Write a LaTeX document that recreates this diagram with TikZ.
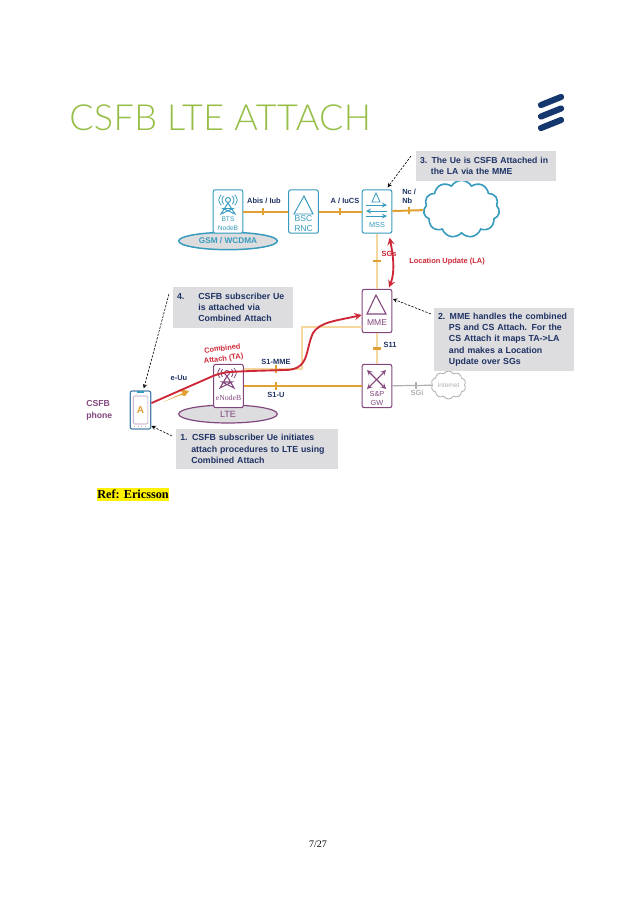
\documentclass[tikz,border=0pt]{standalone}
\usepackage{fontspec}
\setmainfont{Liberation Sans}
\newfontfamily\titlefont[LetterSpace=1]{Lato Light}
\newfontfamily\reffont{Liberation Serif}
\usetikzlibrary{shapes.geometric,shapes.symbols}
\definecolor{titlegreen}{RGB}{150,190,70}
\definecolor{logonavy}{RGB}{20,55,110}
\definecolor{textnavy}{RGB}{30,50,100}
\definecolor{netteal}{RGB}{55,155,190}
\definecolor{netpurple}{RGB}{130,70,125}
\definecolor{ifaceorange}{RGB}{225,160,50}
\definecolor{ifacelight}{RGB}{245,215,160}
\definecolor{attachred}{RGB}{205,40,55}
\definecolor{notegray}{RGB}{221,221,223}
\definecolor{netgray}{RGB}{175,175,178}
\newcommand{\numin}[1]{\makebox[9.5pt][l]{#1}}
\tikzset{
  netbox/.style={draw, rounded corners=1.5pt, line width=0.8pt, fill=white, minimum width=22.2pt, minimum height=32.5pt, inner sep=0pt},
  tealbox/.style={netbox, draw=netteal},
  purplebox/.style={netbox, draw=netpurple},
  boxlabel/.style={font=\fontsize{6.4}{7}\selectfont, align=center, inner sep=0pt},
  iflabel/.style={font=\bfseries\fontsize{5.6}{6.8}\selectfont, text=textnavy, inner sep=0pt, align=left},
  redlabel/.style={font=\bfseries\fontsize{5.6}{7.6}\selectfont, text=attachred, inner sep=0pt, align=center},
  notebox/.style={fill=notegray, font=\bfseries\fontsize{6.6}{8.5}\selectfont, text=textnavy, align=left, inner sep=0pt},
  iface/.style={ifaceorange, line width=1.5pt},
  ifacesoft/.style={ifacelight, line width=1pt},
  vmark/.style={fill=ifaceorange, minimum width=1.6pt, minimum height=5.5pt, inner sep=0pt},
  hmark/.style={fill=ifaceorange, minimum width=5.5pt, minimum height=1.6pt, inner sep=0pt},
  attach/.style={attachred, line width=1.4pt, <->, >=stealth},
  pointer/.style={black, dash pattern=on 1.8pt off 1pt, line width=0.45pt, ->, >=stealth},
}
\begin{document}
\begin{tikzpicture}[x=0.75pt, y=-0.75pt]
    \useasboundingbox (0,0) rectangle (638,903);

    % Title and logo
    \node[anchor=west, inner sep=0pt, text=titlegreen, font=\titlefont\fontsize{27}{27}\selectfont] (title) at (69,118) {CSFB LTE ATTACH};
    \foreach \barY in {0,11.5,23}
        \draw[logonavy, line width=4.6pt, line cap=round] (541,105+\barY) -- (561,97+\barY);

    % GSM side
    \node[ellipse, draw=netteal, fill=notegray, line width=1.1pt, minimum width=74pt, minimum height=13pt, inner sep=0pt, text=netteal, font=\bfseries\fontsize{6.2}{7}\selectfont] (gsm) at (228,241) {GSM / WCDMA};
    \node[tealbox] (bts) at (228,211.5) {};
    \node[tealbox] (bsc) at (303.5,211.5) {};
    \node[tealbox] (mss) at (377,211.5) {};
    \node[cloud, cloud puffs=11, cloud puff arc=120, aspect=1.35, draw=netteal, fill=white, line width=1.2pt, minimum width=57pt, minimum height=43pt, inner sep=0pt] (corecloud) at (461.5,209) {};
    \node[boxlabel, text=netteal, font=\fontsize{5}{6.6}\selectfont] (btstext) at (228,223.5) {BTS\\NodeB};
    \node[boxlabel, text=netteal] (bsctext) at (303.5,223.5) {BSC\\RNC};
    \node[boxlabel, text=netteal, font=\fontsize{5.5}{6.6}\selectfont] (msstext) at (377,225) {MSS};

    % BTS and BSC icons
    \draw[netteal, line width=0.7pt] (228,200) circle (2.5);
    \draw[netteal, line width=0.7pt] (228,203) -- (221,214) -- (233,208.5) -- (223,208.5) -- (235,214) -- cycle;
    \draw[netteal, line width=0.7pt] (304,196) -- (294,214) -- (313,214) -- cycle;

    % MSS icon
    \draw[netteal, line width=0.6pt] (376,193) -- (372,202) -- (380,202) -- cycle;
    \draw[netteal, line width=0.7pt, ->, >=stealth] (366,205) -- (387,205);
    \draw[netteal, line width=0.7pt, <-, >=stealth] (366,211) -- (387,211);
    \draw[netteal, line width=0.7pt, ->, >=stealth] (366,216) -- (387,216);

    % LTE side
    \node[ellipse, draw=netpurple, fill=notegray, line width=0.9pt, minimum width=74pt, minimum height=13.5pt, inner sep=0pt, text=netpurple, font=\fontsize{6.8}{7}\selectfont] (lte) at (228,414) {LTE};
    \node[purplebox] (enb) at (228.5,386) {};
    \node[purplebox] (mme) at (377,311) {};
    \node[purplebox] (sgw) at (377,386) {};
    \node[cloud, cloud puffs=10, cloud puff arc=120, aspect=1.4, draw=netgray, fill=white, line width=0.6pt, minimum width=26pt, minimum height=21pt, inner sep=0pt, text=netgray, font=\fontsize{4.8}{5}\selectfont] (inet) at (448.5,385) {Internet};
    \node[boxlabel, text=netpurple, font=\reffont\fontsize{5.8}{7}\selectfont] (enbtext) at (228.5,398) {eNodeB};
    \node[boxlabel, text=netpurple] (mmetext) at (377,323) {MME};
    \node[boxlabel, text=netpurple, font=\fontsize{5.5}{6.6}\selectfont] (sgwtext) at (377,398.5) {S\&P\\GW};

    % eNodeB, MME and S&P icons
    \draw[netpurple, line width=0.7pt] (227,373) circle (2.5);
    \draw[netpurple, line width=0.8pt] (227,376) -- (220,388) -- (232,382) -- (222,382) -- (234,388) -- cycle;
    \draw[netpurple, line width=0.8pt] (376,295) -- (367,314) -- (386,314) -- cycle;
    \draw[netpurple, line width=0.8pt, <->, >=stealth] (367,370) -- (386,389);
    \draw[netpurple, line width=0.8pt, <->, >=stealth] (386,370) -- (367,389);

    % Antenna waves
    \foreach \waveX/\waveY/\waveC in {228/200/netteal, 227/373/netpurple} {
        \draw[\waveC, line width=0.6pt] (\waveX-4.5,\waveY-4) .. controls (\waveX-6.5,\waveY) .. (\waveX-4.5,\waveY+4);
        \draw[\waveC, line width=0.6pt] (\waveX-7,\waveY-5) .. controls (\waveX-10,\waveY) .. (\waveX-7,\waveY+5);
        \draw[\waveC, line width=0.6pt] (\waveX+4.5,\waveY-4) .. controls (\waveX+6.5,\waveY) .. (\waveX+4.5,\waveY+4);
        \draw[\waveC, line width=0.6pt] (\waveX+7,\waveY-5) .. controls (\waveX+10,\waveY) .. (\waveX+7,\waveY+5);
    }

    % Phone
    \node[draw=netteal!70!netpurple, fill=white, rounded corners=1.5pt, line width=0.9pt, minimum width=15.5pt, minimum height=28.5pt, inner sep=0pt] (phone) at (140.5,410) {};
    \node[draw=netpurple!60, rounded corners=1pt, line width=0.5pt, minimum width=11pt, minimum height=21pt, inner sep=0pt, text=ifaceorange, font=\bfseries\fontsize{7.5}{8}\selectfont] (screen) at (140.5,410) {A};
    \draw[netteal, line width=1.2pt] (137,392) -- (144,392);
    \draw[netgray, dotted, line width=0.7pt] (134,426) -- (147,426);
    \node[anchor=west, inner sep=0pt, text=netpurple, align=left, font=\bfseries\fontsize{6.5}{9}\selectfont] (phonetext) at (86,410) {CSFB\\phone};

    % Interfaces
    \draw[iface] (bts) -- node[vmark, pos=.43] (markabis) {} (bsc);
    \draw[iface] (bsc) -- node[vmark, pos=.5] (markiucs) {} (mss);
    \draw[iface] (mss) -- node[vmark, pos=.55] (marknc) {} (corecloud);
    \draw[ifacesoft] (mss) -- node[hmark, pos=.5] (marksgs) {} (mme);
    \draw[ifacesoft] (mme) -- node[hmark, pos=.5] (marks11) {} (sgw);
    \draw[iface] (enb) -- node[vmark, pos=.27] (marksu) {} (sgw);
    \coordinate (s1low) at (302,369);
    \coordinate (s1high) at (302,327);
    \draw[ifacesoft] ([yshift=12.75pt]enb.east) -- node[vmark, pos=.56] (marksm) {} (s1low) -- (s1high) -- ([yshift=-12pt]mme.west);
    \draw[netgray, line width=0.9pt] (sgw) -- node[vmark, fill=netgray, pos=.6] (marksgi) {} (inet);

    % Interface labels
    \node[iflabel] (abis) at (264,200.5) {Abis / Iub};
    \node[iflabel] (iucs) at (345,200.5) {A / IuCS};
    \node[iflabel, anchor=west] (ncnb) at (402,196) {Nc /\\Nb};
    \node[iflabel] (s11) at (390,345) {S11};
    \node[iflabel] (s1mme) at (276,362) {S1-MME};
    \node[iflabel] (s1u) at (276,395) {S1-U};
    \node[iflabel] (euu) at (179,378) {e-Uu};
    \node[iflabel, text=netgray] (sgi) at (417,393) {SGi};
    \node[redlabel] (sgs) at (389,254) {SGs};
    \node[redlabel, anchor=west] (locupd) at (409,262) {Location Update (LA)};
    \node[redlabel, rotate=7] (combined) at (223,354) {Combined\\Attach (TA)};

    % Radio link flash
    \fill[ifaceorange] (163,402) -- (183,393) -- (179,389) -- (189,391) -- (185,396) -- (181,395) -- cycle;

    % Red signalling paths
    \draw[attachred, line width=1.4pt, ->, >=stealth] ([yshift=5.2pt]phone.east) -- (213,376) .. controls (225,371) and (235,372) .. (250,371) -- (285,370) .. controls (310,370) and (305,350) .. (313,333) .. controls (320,322) and (335,321) .. ([yshift=-3pt]mme.west);
    \draw[attach] ([xshift=9.5pt,yshift=-3pt]mss.south) .. controls (392,250) and (396,270) .. ([xshift=9pt,yshift=1pt]mme.north);

    % Notes
    \node[notebox, font=\bfseries\fontsize{6.5}{8.5}\selectfont, minimum width=105pt, minimum height=22.5pt, text width=99pt] (note3) at (486,166) {3. The Ue is CSFB Attached in\\\hspace*{8.2pt}the LA via the MME};
    \node[notebox, minimum width=90pt, minimum height=30.7pt, text width=84pt] (note4) at (233,307.5) {\numin{4.}\hspace{6.5pt}CSFB subscriber Ue\\\hspace*{16pt}is attached via\\\hspace*{16pt}Combined Attach};
    \node[notebox, minimum width=121.5pt, minimum height=30pt, text width=115pt] (note1) at (257,449) {1. CSFB subscriber Ue initiates\\\hspace*{8.2pt}attach procedures to LTE using\\\hspace*{8.2pt}Combined Attach};
    \node[notebox, minimum width=105pt, minimum height=47.3pt, text width=99pt] (note2) at (504,339.5) {2. MME handles the combined\\\hspace*{8.2pt}PS and CS Attach. For the\\\hspace*{8.2pt}CS Attach it maps TA->LA\\\hspace*{8.2pt}and makes a Location\\\hspace*{8.2pt}Update over SGs};

    % Note pointers
    \coordinate (tail3) at (411,156);
    \coordinate (tail4) at (169,294);
    \coordinate (tail1) at (172,436);
    \coordinate (tail2) at (431,314);
    \draw[pointer] (tail3) -- ([xshift=-3.5pt,yshift=1.5pt]mss.north east);
    \draw[pointer] (tail4) -- ([xshift=2.5pt,yshift=1.5pt]phone.north);
    \draw[pointer] (tail1) -- ([yshift=-12pt]phone.east);
    \draw[pointer] (tail2) -- ([yshift=9pt,xshift=0.5pt]mme.east);

    % Reference and page number
    \node[anchor=west, fill=yellow, inner xsep=0pt, inner ysep=1.5pt, font=\reffont\bfseries\fontsize{9.2}{10}\selectfont] (refnote) at (97,494.5) {Ref: Ericsson};
    \node[font=\reffont\fontsize{7.5}{8}\selectfont, inner sep=0pt] (pagenum) at (318,844) {7/27};
\end{tikzpicture}
\end{document}
